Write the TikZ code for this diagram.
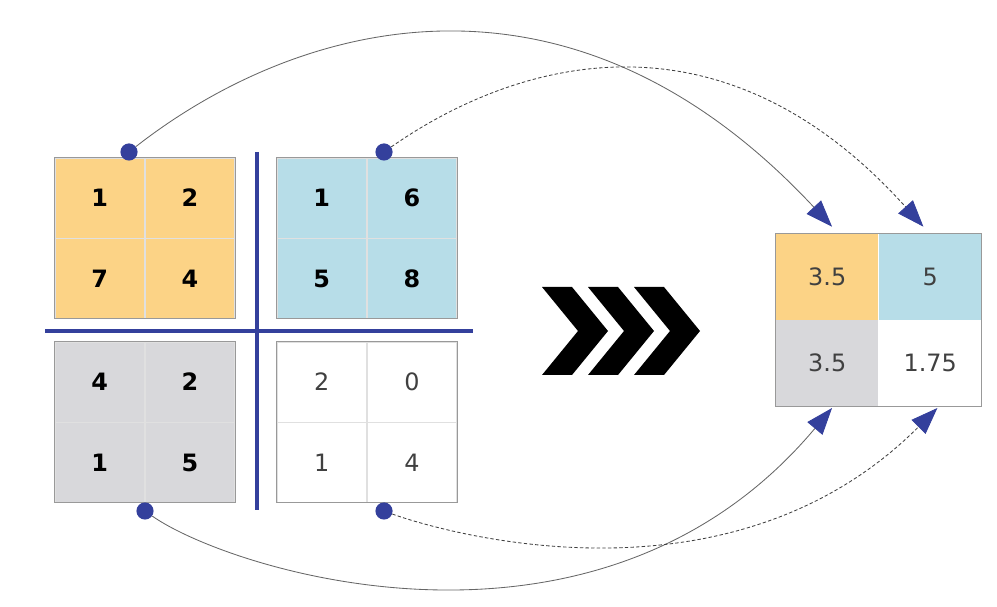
\documentclass[tikz,border=0pt]{standalone}
\usepackage{fontspec}
\setmainfont{DejaVu Sans}
\usetikzlibrary{arrows.meta,positioning,fit}
\definecolor{poolOrange}{RGB}{252,211,134}
\definecolor{poolBlue}{RGB}{183,221,232}
\definecolor{poolGray}{RGB}{216,216,219}
\definecolor{navy}{RGB}{52,64,156}

\begin{document}
\begin{tikzpicture}[
	node distance=0cm and 0cm,
	font=\fontsize{17}{20}\selectfont
	]
\tikzset{
	cell/.style = { rectangle, draw=black!12, minimum width=2.24cm, minimum height=2cm, inner sep=0pt, text=black!75 },
	boldCell/.style = { cell, font=\fontsize{17}{20}\selectfont\bfseries, text=black },
	outCell/.style = { cell, draw=none, minimum width=2.56cm, minimum height=2.14cm },
	frame/.style = { rectangle, draw=black!40, line width=0.7pt, inner sep=0pt },
	dot/.style = { circle, fill=navy, minimum size=0.43cm, inner sep=0pt },
	link/.style = { draw=black!60, line width=0.6pt, -{Triangle[length=19pt, width=14pt, color=navy]} },
	linkDashed/.style = { link, draw=black!75, dash pattern=on 2.4pt off 1.6pt },
	separator/.style = { navy, line width=3.5pt },
	chevron/.style = { fill=black }
}
	\useasboundingbox (0,0) rectangle (24.925,15.175);

	% orange pool
	\node (orangeTL) [boldCell, fill=poolOrange] at (2.494,10.225) {1};
	\node (orangeTR) [boldCell, fill=poolOrange, right=of orangeTL] {2};
	\node (orangeBL) [boldCell, fill=poolOrange, below=of orangeTL] {7};
	\node (orangeBR) [boldCell, fill=poolOrange, right=of orangeBL] {4};
	\node (orangeGrid) [frame, fit=(orangeTL)(orangeBR)] {};

	% blue pool
	\node (blueTL) [boldCell, fill=poolBlue] at (8.044,10.225) {1};
	\node (blueTR) [boldCell, fill=poolBlue, right=of blueTL] {6};
	\node (blueBL) [boldCell, fill=poolBlue, below=of blueTL] {5};
	\node (blueBR) [boldCell, fill=poolBlue, right=of blueBL] {8};
	\node (blueGrid) [frame, fit=(blueTL)(blueBR)] {};

	% gray pool
	\node (grayTL) [boldCell, fill=poolGray] at (2.494,5.625) {4};
	\node (grayTR) [boldCell, fill=poolGray, right=of grayTL] {2};
	\node (grayBL) [boldCell, fill=poolGray, below=of grayTL] {1};
	\node (grayBR) [boldCell, fill=poolGray, right=of grayBL] {5};
	\node (grayGrid) [frame, fit=(grayTL)(grayBR)] {};

	% white pool
	\node (whiteTL) [cell, fill=white] at (8.044,5.625) {2};
	\node (whiteTR) [cell, fill=white, right=of whiteTL] {0};
	\node (whiteBL) [cell, fill=white, below=of whiteTL] {1};
	\node (whiteBR) [cell, fill=white, right=of whiteBL] {4};
	\node (whiteGrid) [frame, fit=(whiteTL)(whiteBR)] {};

	% result
	\node (outTL) [outCell, fill=poolOrange] at (20.681,8.256) {3.5};
	\node (outTR) [outCell, fill=poolBlue, right=of outTL] {5};
	\node (outBL) [outCell, fill=poolGray, below=of outTL] {3.5};
	\node (outBR) [outCell, fill=white, right=of outBL] {1.75};
	\node (outGrid) [frame, fit=(outTL)(outBR)] {};

	% separators
	\draw [separator] (1.125,6.9) -- (11.825,6.9);
	\draw [separator] (6.425,11.375) -- (6.425,2.425);

	% chevrons
	\foreach \i in {0,1,2}
		\fill [chevron, xshift=\i*1.15cm] (13.55,8) -- ++(0.75,0) -- ++(0.9,-1.1) -- ++(-0.9,-1.1) -- ++(-0.75,0) -- ++(0.9,1.1) -- cycle;

	% dots
	\node (dotOrange) [dot] at (3.225,11.375) {};
	\node (dotBlue) [dot] at (9.6,11.375) {};
	\node (dotGray) [dot] at (3.625,2.4) {};
	\node (dotWhite) [dot] at (9.6,2.4) {};

	% links
	\draw [link] (dotOrange) to[out=38, in=133, out distance=5cm, in distance=9.75cm] ([xshift=0.12cm, yshift=0.175cm]outTL.north);
	\draw [linkDashed] (dotBlue) to[out=35, in=132, out distance=3.4cm, in distance=7.9cm] ([xshift=-0.17cm, yshift=0.175cm]outTR.north);
	\draw [link] (dotGray) to[out=-35, in=-130, out distance=2.4cm, in distance=9.1cm] ([xshift=0.12cm, yshift=-0.05cm]outBL.south);
	\draw [linkDashed] (dotWhite) to[out=-20, in=-135, out distance=1cm, in distance=7.5cm] ([xshift=0.18cm, yshift=-0.05cm]outBR.south);

\end{tikzpicture}
\end{document}
